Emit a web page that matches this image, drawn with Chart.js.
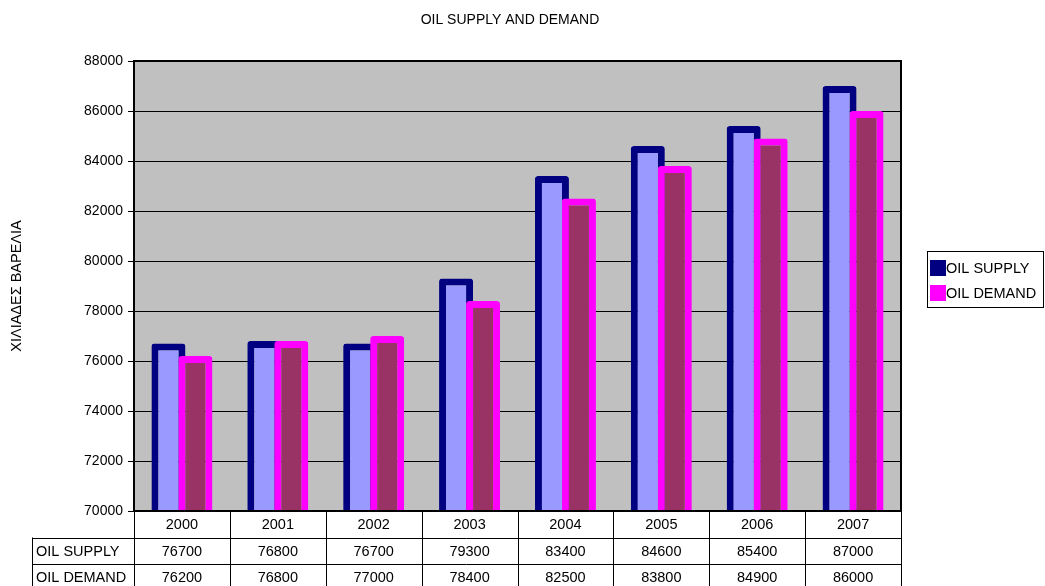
<!DOCTYPE html>
<html>
<head>
<meta charset="utf-8">
<script src="https://cdn.jsdelivr.net/npm/chart.js@4/dist/chart.umd.min.js"></script>
<style>
  html, body { margin: 0; padding: 0; background: #ffffff; }
  #wrap { width: 1045px; height: 586px; }
</style>
</head>
<body>
<div id="wrap"><canvas id="c" width="1045" height="586"></canvas></div>
<script>
// Years along the category axis
const years = ['2000', '2001', '2002', '2003', '2004', '2005', '2006', '2007'];
// Thousand barrels per day
const oilSupply = [76700, 76800, 76700, 79300, 83400, 84600, 85400, 87000];
const oilDemand = [76200, 76800, 77000, 78400, 82500, 83800, 84900, 86000];
// Value axis range
const yMin = 70000;
const yMax = 88000;
const yStep = 2000;

const seriesNames = ['OIL SUPPLY', 'OIL DEMAND'];
const FONT = "'Liberation Sans', Arial, sans-serif";

// Draw the bar series in index order so the demand bars overlap the supply bars
const seriesOrder = {
  id: 'seriesOrder',
  beforeDatasetsDraw(chart) {
    const { ctx, chartArea: a } = chart;
    ctx.save();
    ctx.beginPath();
    ctx.rect(a.left, a.top, a.right - a.left, a.bottom - a.top);
    ctx.clip();
    for (let i = 0; i < chart.data.datasets.length; i++) {
      chart.getDatasetMeta(i).controller.draw();
    }
    ctx.restore();
    return false;
  }
};

// Grey plot background, frame, title, axis title, legend and data table
const decorations = {
  id: 'decorations',
  beforeDraw(chart) {
    const { ctx, chartArea: a } = chart;
    ctx.save();
    ctx.fillStyle = '#c0c0c0';
    ctx.fillRect(a.left, a.top, a.right - a.left, a.bottom - a.top);
    ctx.restore();
  },
  afterDraw(chart) {
    const { ctx, chartArea: a } = chart;
    const xs = chart.scales.x;
    ctx.save();

    // plot frame
    ctx.strokeStyle = '#000';
    ctx.lineWidth = 2;
    ctx.strokeRect(a.left, a.top, a.right - a.left, a.bottom - a.top);

    // title
    ctx.fillStyle = '#000';
    ctx.font = '14px ' + FONT;
    ctx.textAlign = 'center';
    ctx.textBaseline = 'middle';
    ctx.fillText('OIL SUPPLY AND DEMAND', 510, 20);

    // value axis title
    ctx.save();
    ctx.translate(17, (a.top + a.bottom) / 2);
    ctx.rotate(-Math.PI / 2);
    ctx.font = '14.5px ' + FONT;
    ctx.fillText('ΧΙΛΙΑΔΕΣ ΒΑΡΕΛΙΑ', 0, 0);
    ctx.restore();

    // data table
    const rowH = 26.5;
    const r0 = a.bottom;            // year row top
    const r1 = r0 + rowH;           // supply row top
    const r2 = r1 + rowH;           // demand row top
    const r3 = r2 + rowH;
    const labelLeft = 32;
    ctx.lineWidth = 1;
    ctx.strokeStyle = '#000';
    ctx.beginPath();
    ctx.moveTo(a.left, r0 + 0.5); ctx.lineTo(a.right, r0 + 0.5);
    ctx.moveTo(labelLeft, Math.round(r1) + 0.5); ctx.lineTo(a.right, Math.round(r1) + 0.5);
    ctx.moveTo(labelLeft, Math.round(r2) + 0.5); ctx.lineTo(a.right, Math.round(r2) + 0.5);
    const n = years.length;
    const step = (a.right - a.left) / n;
    for (let i = 0; i <= n; i++) {
      const x = Math.round(a.left + i * step) + 0.5;
      ctx.moveTo(x, r0); ctx.lineTo(x, r3);
    }
    ctx.moveTo(labelLeft + 0.5, r1); ctx.lineTo(labelLeft + 0.5, r3);
    ctx.stroke();

    ctx.fillStyle = '#000';
    ctx.font = '14.5px ' + FONT;
    ctx.textBaseline = 'middle';
    ctx.textAlign = 'center';
    years.forEach((y, i) => {
      const cx = xs.getPixelForValue(i);
      ctx.fillText(y, cx, r0 + rowH / 2 + 1);
      ctx.fillText(String(oilSupply[i]), cx, r1 + rowH / 2 + 1);
      ctx.fillText(String(oilDemand[i]), cx, r2 + rowH / 2 + 1);
    });
    ctx.textAlign = 'left';
    ctx.fillText(seriesNames[0], labelLeft + 4, r1 + rowH / 2 + 1);
    ctx.fillText(seriesNames[1], labelLeft + 4, r2 + rowH / 2 + 1);

    // legend box
    const lx = 927, ly = 251, lw = 116, lh = 56;
    ctx.fillStyle = '#fff';
    ctx.fillRect(lx, ly, lw, lh);
    ctx.strokeStyle = '#000';
    ctx.lineWidth = 1;
    ctx.strokeRect(lx + 0.5, ly + 0.5, lw, lh);
    const ds = chart.data.datasets;
    [0, 1].forEach(k => {
      const yy = ly + 17 + k * 25;
      ctx.fillStyle = ds[k].borderColor;
      ctx.fillRect(lx + 3, yy - 8, 16, 16);
      ctx.fillStyle = '#000';
      ctx.font = '14.5px ' + FONT;
      ctx.textAlign = 'left';
      ctx.fillText(ds[k].label, lx + 19, yy + 1);
    });

    ctx.restore();
  }
};

new Chart(document.getElementById('c'), {
  type: 'bar',
  data: {
    labels: years,
    datasets: [
      {
        label: seriesNames[0],
        data: oilSupply,
        backgroundColor: '#9999ff',
        borderColor: '#000080',
        borderWidth: 7,
        borderRadius: 3
      },
      {
        label: seriesNames[1],
        data: oilDemand,
        backgroundColor: '#993366',
        borderColor: '#ff00ff',
        borderWidth: 7,
        borderRadius: 3
      }
    ]
  },
  plugins: [seriesOrder, decorations],
  options: {
    responsive: false,
    animation: false,
    devicePixelRatio: 1,
    categoryPercentage: 0.563,
    barPercentage: 1.26,
    layout: { padding: { left: 0, top: 61, right: 144, bottom: 75 } },
    plugins: {
      legend: { display: false },
      title: { display: false },
      tooltip: { enabled: false }
    },
    scales: {
      x: {
        type: 'category',
        offset: true,
        grid: { display: false },
        ticks: { display: false },
        border: { display: true, color: '#000', width: 2 },
        afterFit(scale) { scale.height = 0; }
      },
      y: {
        min: yMin,
        max: yMax,
        ticks: {
          stepSize: yStep,
          color: '#000',
          padding: 5,
          font: { family: FONT, size: 14 },
          callback: (v) => String(v)
        },
        grid: {
          color: '#000',
          lineWidth: 1,
          drawTicks: true,
          tickLength: 6,
          tickColor: '#000'
        },
        border: { display: true, color: '#000', width: 2 },
        afterFit(scale) { scale.width = 134; }
      }
    }
  }
});
</script>
</body>
</html>
